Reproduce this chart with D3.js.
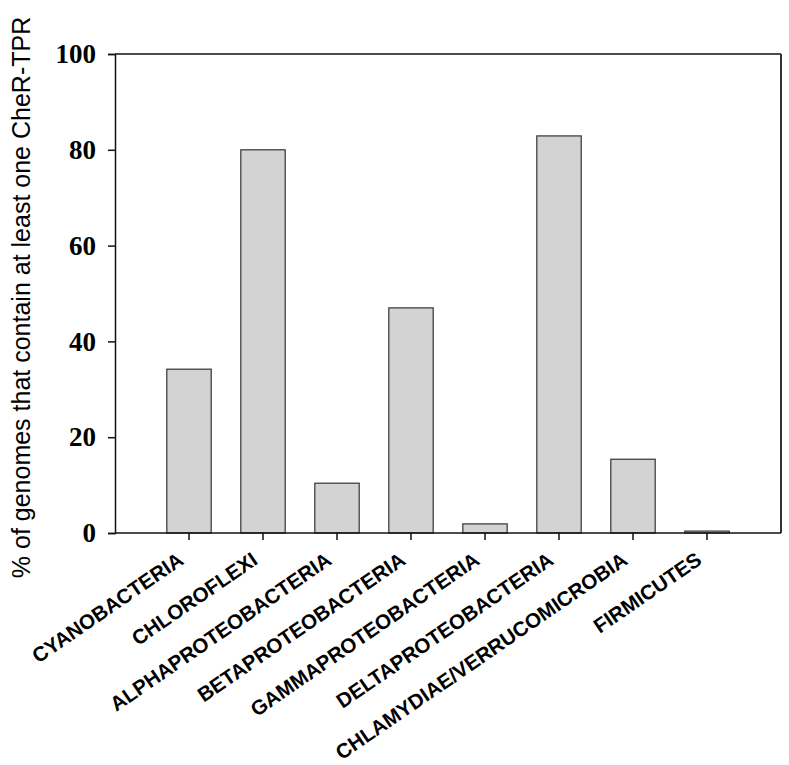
<!DOCTYPE html>
<html>
<head>
<meta charset="utf-8">
<script src="https://cdn.jsdelivr.net/npm/d3@7"></script>
<style>
  html, body { margin: 0; padding: 0; background: #fff; }
  svg { display: block; }
</style>
</head>
<body>
<svg id="chart" width="789" height="765"></svg>
<script>
const categories = ["CYANOBACTERIA", "CHLOROFLEXI", "ALPHAPROTEOBACTERIA", "BETAPROTEOBACTERIA",
  "GAMMAPROTEOBACTERIA", "DELTAPROTEOBACTERIA", "CHLAMYDIAE/VERRUCOMICROBIA", "FIRMICUTES"];
const values = [34.2, 80, 10.4, 47, 1.9, 82.9, 15.4, 0.4];
const yTicks = [0, 20, 40, 60, 80, 100];
const yTitle = "% of genomes that contain at least one CheR-TPR";

const svg = d3.select("#chart");
const mLeft = 115, mRight = 781, mTop = 54, mBottom = 533;

const x = d3.scaleBand().domain(categories).range([mLeft, mRight]).paddingInner(0).paddingOuter(0.5);
const y = d3.scaleLinear().domain([0, 100]).range([mBottom, mTop]);
const barW = x.step() * 0.6;

// bars
svg.append("g").selectAll("rect").data(values).join("rect")
  .attr("x", (d, i) => x(categories[i]) + x.bandwidth() / 2 - barW / 2)
  .attr("y", d => y(d))
  .attr("width", barW)
  .attr("height", d => y(0) - y(d))
  .attr("fill", "#d3d3d3")
  .attr("stroke", "#333")
  .attr("stroke-width", 1.2);

// frame top and right
svg.append("line").attr("x1", mLeft).attr("x2", mRight).attr("y1", mTop).attr("y2", mTop)
  .attr("stroke", "#111").attr("stroke-width", 1.5);
svg.append("line").attr("x1", mRight).attr("x2", mRight).attr("y1", mTop).attr("y2", mBottom)
  .attr("stroke", "#333").attr("stroke-width", 2);

// y axis
const yAxis = svg.append("g").attr("transform", `translate(${mLeft},0)`)
  .call(d3.axisLeft(y).tickValues(yTicks).tickSize(7).tickPadding(12).tickFormat(d3.format("d")));
yAxis.select(".domain").attr("stroke", "#111").attr("stroke-width", 1.5);
yAxis.selectAll(".tick line").attr("stroke", "#111").attr("stroke-width", 1.5);
yAxis.selectAll(".tick text")
  .attr("font-family", "'Liberation Serif', 'Times New Roman', serif")
  .attr("font-weight", "bold").attr("font-size", 27).attr("fill", "#000");

// x axis
const xAxis = svg.append("g").attr("transform", `translate(0,${mBottom})`)
  .call(d3.axisBottom(x).tickSize(7).tickSizeOuter(0).tickFormat(""));
xAxis.select(".domain").attr("stroke", "#111").attr("stroke-width", 1.5)
  .attr("d", `M${mLeft},0H${mRight}`);
xAxis.selectAll(".tick line").attr("stroke", "#111").attr("stroke-width", 1.5);

// rotated x labels
svg.append("g").selectAll("text").data(categories).join("text")
  .attr("transform", d => `translate(${x(d) + x.bandwidth() / 2 - 4},${mBottom + 30}) rotate(-34.5)`)
  .attr("text-anchor", "end")
  .attr("font-family", "'Liberation Sans', Arial, sans-serif")
  .attr("font-weight", "bold").attr("font-size", 20.5).attr("fill", "#000")
  .text(d => d);

// y title
svg.append("text")
  .attr("transform", `translate(30,${(13 + 582) / 2}) rotate(-90)`)
  .attr("text-anchor", "middle")
  .attr("font-family", "'Liberation Sans', Arial, sans-serif")
  .attr("font-size", 25).attr("fill", "#000")
  .text(yTitle);
</script>
</body>
</html>
